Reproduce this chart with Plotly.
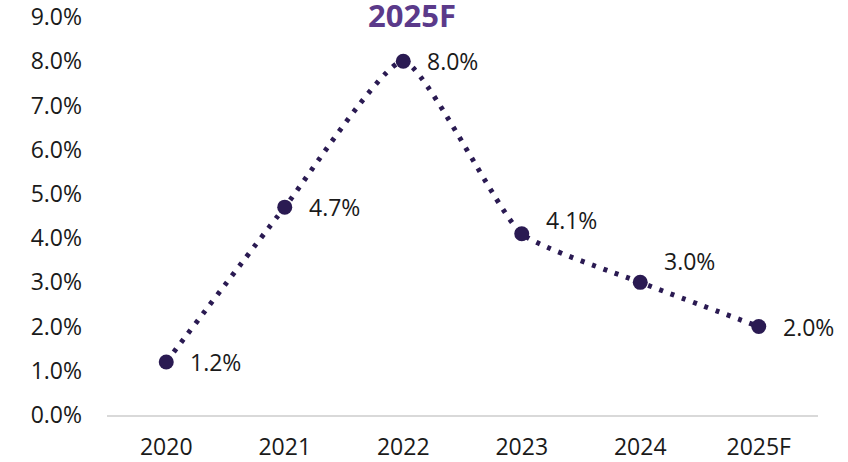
import plotly.graph_objects as go

years = ['2020', '2021', '2022', '2023', '2024', '2025F']
growth = [1.2, 4.7, 8.0, 4.1, 3.0, 2.0]
labels = ['1.2%', '4.7%', '8.0%', '4.1%', '3.0%', '2.0%']
y_ticks = [0, 1, 2, 3, 4, 5, 6, 7, 8, 9]

# vertical nudge of each data label (px, up is positive)
label_yshift = [0, 0, 0, 14, 21, 0]

fig = go.Figure()
fig.add_trace(go.Scatter(
    x=years, y=growth, mode='lines+markers',
    line=dict(color='#2a1a52', width=5, dash='4px,8px', shape='spline', smoothing=0.5),
    marker=dict(color='#2a1a52', size=15, symbol='circle'),
    cliponaxis=False, showlegend=False
))

# category positions are indices, so the numeric-looking year names are not read as numbers
for i, (y, t, dy) in enumerate(zip(growth, labels, label_yshift)):
    fig.add_annotation(
        x=i, y=y, text=t, showarrow=False, xanchor='left', yanchor='middle',
        xshift=22, yshift=dy, font=dict(size=23, color='#1a1a1a', family='Open Sans')
    )

fig.add_annotation(
    text='<b>2025F</b>', xref='paper', yref='paper', x=0.429, y=1.0, yanchor='middle',
    yshift=2, showarrow=False, font=dict(size=31, color='#5b3a8a', family='Open Sans')
)

fig.update_xaxes(
    type='category', range=[-0.5, 5.5], showgrid=False, showline=True, linecolor='#d9d9d9',
    linewidth=2, automargin=False, ticks='', ticklabelstandoff=10,
    tickfont=dict(size=23, color='#1a1a1a', family='Open Sans')
)
fig.update_yaxes(
    range=[0, 9], tickvals=y_ticks, ticktext=[f'{v:.1f}%' for v in y_ticks], automargin=False,
    showgrid=False, zeroline=False, showline=False, ticks='', ticklabelstandoff=24,
    ticklabeloverflow='allow',
    tickfont=dict(size=23, color='#1a1a1a', family='Open Sans')
)
fig.update_layout(
    width=848, height=462, template='plotly_white',
    plot_bgcolor='white', paper_bgcolor='white',
    margin=dict(l=107, r=30, t=17, b=47)
)
# drop the browser's default 8px body margin so the figure sits at the top-left corner
fig.write_html("out.html", config={'displayModeBar': False},
               post_script="document.body.style.margin='0';")
